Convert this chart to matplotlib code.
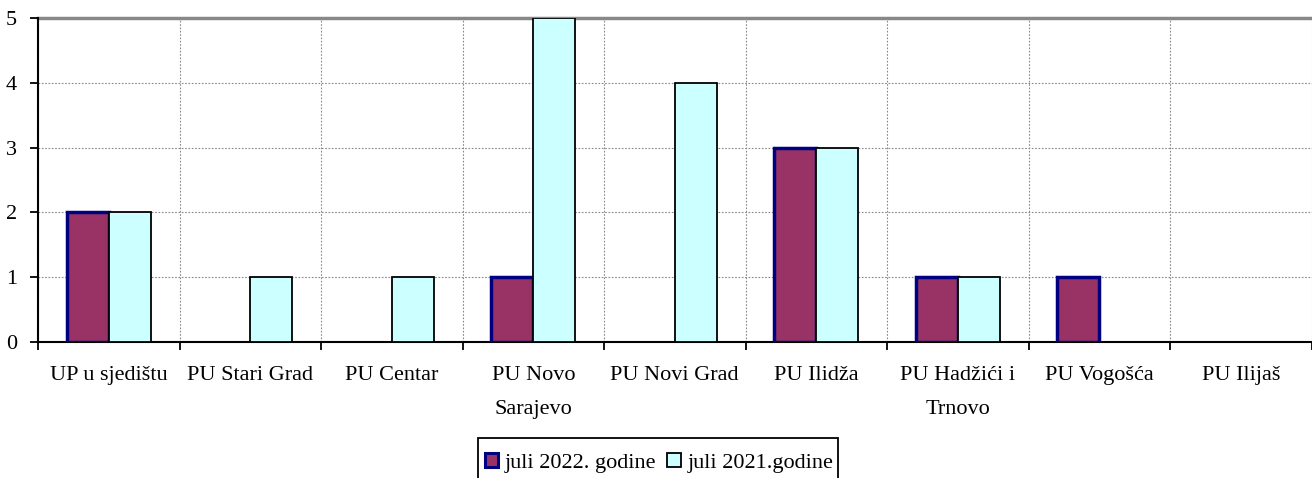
import matplotlib
matplotlib.use("Agg")
import matplotlib.pyplot as plt
import numpy as np
from matplotlib.patches import Patch, Rectangle

categories = ["UP u sjedištu", "PU Stari Grad", "PU Centar", "PU Novo\nSarajevo",
              "PU Novi Grad", "PU Ilidža", "PU Hadžići i\nTrnovo", "PU Vogošća", "PU Ilijaš"]
series_2022 = [2, 0, 0, 1, 0, 3, 1, 1, 0]
series_2021 = [2, 1, 1, 5, 4, 3, 1, 0, 0]
label_2022 = "juli 2022. godine"
label_2021 = "juli 2021.godine"

plt.rcParams['font.family'] = ['Liberation Serif', 'DejaVu Serif']

W, H = 1312, 478
fig = plt.figure(figsize=(W/100, H/100), dpi=100)
ax = fig.add_axes([38/W, 136/H, 1 - 38/W - 0.5/W, (342-18)/H])

x = np.arange(len(categories))
w = 0.297
v22 = np.array(series_2022, dtype=float)
v21 = np.array(series_2021, dtype=float)
m22 = v22 > 0
m21 = v21 > 0
ax.bar(x[m22] - w/2, v22[m22], width=w, color="#993366", edgecolor="#000080", linewidth=2.5, zorder=3)
ax.bar(x[m21] + w/2, v21[m21], width=w, color="#CCFFFF", edgecolor="black", linewidth=1.3, zorder=3)

ax.set_xlim(-0.5, len(categories) - 0.5)
ax.set_ylim(0, 5)
ax.set_yticks(range(0, 6))
ax.set_xticks(np.arange(len(categories) + 1) - 0.5)
ax.set_xticklabels([])
ax.set_xticks(x, minor=True)
ax.set_xticklabels(categories, minor=True, fontsize=16, linespacing=2.05)
ax.tick_params(axis='x', which='minor', length=0, pad=17.5)
ax.tick_params(axis='x', which='major', length=6, width=1.3, direction='out')
ax.tick_params(axis='y', length=6, width=1.3, direction='out', labelsize=16, pad=9)

ax.grid(True, which='major', axis='both', color='#888888', linestyle=(0, (1.5, 1.5)), linewidth=0.8, zorder=0)
for s in ['top', 'right']:
    ax.spines[s].set_visible(False)
ax.spines['left'].set_linewidth(1.5)
ax.spines['bottom'].set_linewidth(1.5)
ax.axhline(5, color='#888888', linewidth=2.5, zorder=1, clip_on=False)

handles = [Patch(facecolor="#993366", edgecolor="#000080", linewidth=2.2),
           Patch(facecolor="#CCFFFF", edgecolor="black", linewidth=1.3)]
leg = fig.legend(handles, [label_2022, label_2021], loc='center',
                 bbox_to_anchor=(659/W, (H - 463)/H), ncol=2, fontsize=16, frameon=False,
                 handlelength=0.6, handleheight=0.6,
                 handletextpad=0.3, columnspacing=0.5, borderpad=0.3, borderaxespad=0)
fig.add_artist(Rectangle((478/W, -20/H), 360/W, (H - 438 + 20)/H, transform=fig.transFigure,
                         facecolor='none', edgecolor='black', linewidth=1.3, clip_on=False))

fig.savefig("out.png", dpi=100)
